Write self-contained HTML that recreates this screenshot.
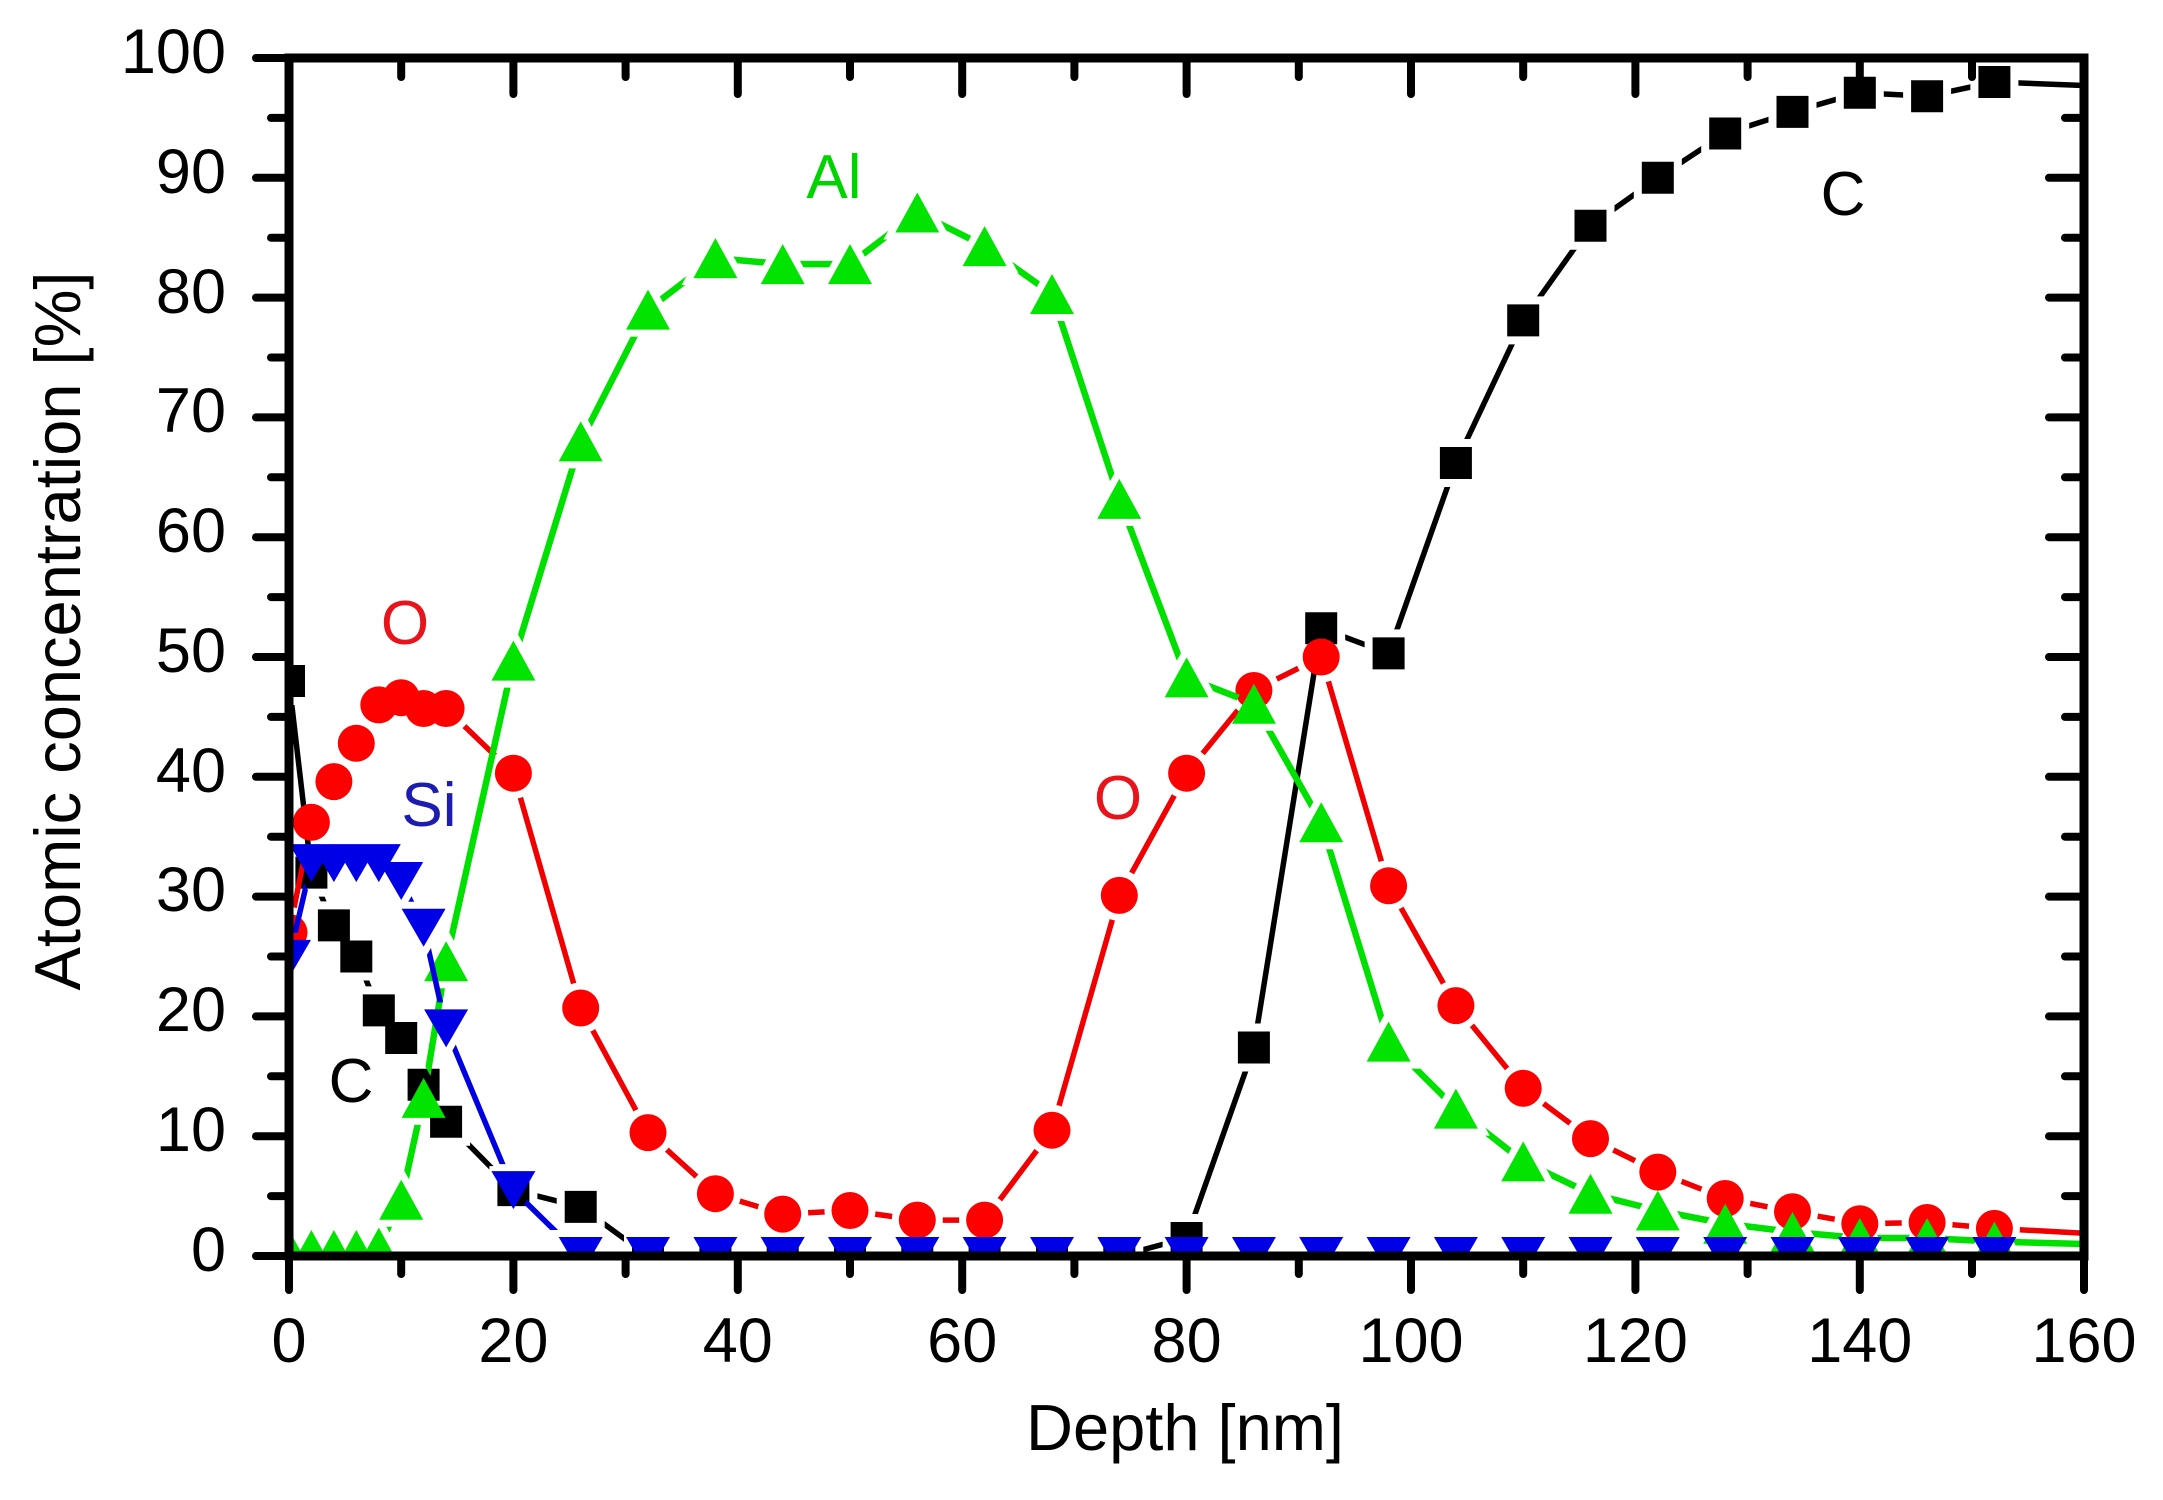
<!DOCTYPE html>
<html>
<head>
<meta charset="utf-8">
<style>
  html,body{margin:0;padding:0;background:#fff;}
  svg{display:block;}
  text{font-family:"Liberation Sans",Arial,sans-serif;}
</style>
</head>
<body>
<svg xmlns="http://www.w3.org/2000/svg" width="2163" height="1500" viewBox="0 0 2163 1500">
<rect x="0" y="0" width="2163" height="1500" fill="#fff"/>
<defs>
  <clipPath id="plotclip"><rect x="289" y="58" width="1795" height="1198"/></clipPath>

  <!-- C squares -->
  <path id="cP" d="M273 665h32v32h-32zM295.4 856.6h32v32h-32zM317.9 909.4h32v32h-32zM340.3 940.5h32v32h-32zM362.8 994.4h32v32h-32zM385.2 1022h32v32h-32zM407.6 1068.7h32v32h-32zM430.1 1105.8h32v32h-32zM497.4 1174.1h32v32h-32zM564.7 1190.9h32v32h-32zM632 1240h32v32h-32zM699.4 1240h32v32h-32zM766.7 1240h32v32h-32zM834 1240h32v32h-32zM901.3 1240h32v32h-32zM968.6 1240h32v32h-32zM1036 1240h32v32h-32zM1103.3 1240h32v32h-32zM1170.6 1222h32v32h-32zM1237.9 1031.5h32v32h-32zM1305.2 612.3h32v32h-32zM1372.6 637.4h32v32h-32zM1439.9 447h32v32h-32zM1507.2 304.4h32v32h-32zM1574.5 209.7h32v32h-32zM1641.8 161.8h32v32h-32zM1709.2 117.5h32v32h-32zM1776.5 95.9h32v32h-32zM1843.8 76.7h32v32h-32zM1911.1 80.3h32v32h-32zM1978.4 66h32v32h-32z"/>

  <!-- O circles -->
  <g id="oP">
    <circle cx="289" cy="932.5" r="18.5"/><circle cx="311.4" cy="822.3" r="18.5"/><circle cx="333.9" cy="781.6" r="18.5"/><circle cx="356.3" cy="743.3" r="18.5"/><circle cx="378.8" cy="704.9" r="18.5"/><circle cx="401.2" cy="697.7" r="18.5"/><circle cx="423.6" cy="708.5" r="18.5"/><circle cx="446.1" cy="708.5" r="18.5"/><circle cx="513.4" cy="773.2" r="18.5"/><circle cx="580.7" cy="1008" r="18.5"/><circle cx="648" cy="1132.6" r="18.5"/><circle cx="715.4" cy="1193.7" r="18.5"/><circle cx="782.7" cy="1214.1" r="18.5"/><circle cx="850" cy="1210.5" r="18.5"/><circle cx="917.3" cy="1220.1" r="18.5"/><circle cx="984.6" cy="1220.1" r="18.5"/><circle cx="1052" cy="1130.2" r="18.5"/><circle cx="1119.3" cy="895.4" r="18.5"/><circle cx="1186.6" cy="773.2" r="18.5"/><circle cx="1253.9" cy="690.5" r="18.5"/><circle cx="1321.2" cy="657" r="18.5"/><circle cx="1388.6" cy="885.8" r="18.5"/><circle cx="1455.9" cy="1005.6" r="18.5"/><circle cx="1523.2" cy="1088.3" r="18.5"/><circle cx="1590.5" cy="1138.6" r="18.5"/><circle cx="1657.8" cy="1172.1" r="18.5"/><circle cx="1725.2" cy="1198.5" r="18.5"/><circle cx="1792.5" cy="1211.7" r="18.5"/><circle cx="1859.8" cy="1223.7" r="18.5"/><circle cx="1927.1" cy="1222.5" r="18.5"/><circle cx="1994.4" cy="1228.4" r="18.5"/>
  </g>

  <!-- Al up triangles -->
  <path id="aP" d="M289 1230l22 40h-44zM311.4 1230l22 40h-44zM333.9 1230l22 40h-44zM356.3 1230l22 40h-44zM378.8 1227.6l22 40h-44zM401.2 1179.7l22 40h-44zM423.6 1077.9l22 40h-44zM446.1 941.3l22 40h-44zM513.4 640.6l22 40h-44zM580.7 421.4l22 40h-44zM648 289.6l22 40h-44zM715.4 238.1l22 40h-44zM782.7 244.1l22 40h-44zM850 244.1l22 40h-44zM917.3 192.5l22 40h-44zM984.6 226.1l22 40h-44zM1052 274l22 40h-44zM1119.3 478.9l22 40h-44zM1186.6 657.4l22 40h-44zM1253.9 683.7l22 40h-44zM1321.2 802.3l22 40h-44zM1388.6 1021.6l22 40h-44zM1455.9 1088.6l22 40h-44zM1523.2 1141.4l22 40h-44zM1590.5 1173.7l22 40h-44zM1657.8 1190.5l22 40h-44zM1725.2 1203.7l22 40h-44zM1792.5 1212l22 40h-44zM1859.8 1218l22 40h-44zM1927.1 1218l22 40h-44zM1994.4 1221.6l22 40h-44z"/>

  <!-- Si down triangles -->
  <path id="sP" d="M267 939.9h44l-22 38zM289.4 844.1h44l-22 38zM311.9 844.1h44l-22 38zM334.3 844.1h44l-22 38zM356.8 844.1h44l-22 38zM379.2 862h44l-22 38zM401.6 908.7h44l-22 38zM424.1 1009.4h44l-22 38zM491.4 1171.1h44l-22 38zM558.7 1237h44l-22 38zM626 1237h44l-22 38zM693.4 1237h44l-22 38zM760.7 1237h44l-22 38zM828 1237h44l-22 38zM895.3 1237h44l-22 38zM962.6 1237h44l-22 38zM1030 1237h44l-22 38zM1097.3 1237h44l-22 38zM1164.6 1237h44l-22 38zM1231.9 1237h44l-22 38zM1299.2 1237h44l-22 38zM1366.6 1237h44l-22 38zM1433.9 1237h44l-22 38zM1501.2 1237h44l-22 38zM1568.5 1237h44l-22 38zM1635.8 1237h44l-22 38zM1703.2 1237h44l-22 38zM1770.5 1237h44l-22 38zM1837.8 1237h44l-22 38zM1905.1 1237h44l-22 38zM1972.4 1237h44l-22 38z"/>

  <mask id="mC" maskUnits="userSpaceOnUse" x="0" y="0" width="2163" height="1500">
    <rect x="0" y="0" width="2163" height="1500" fill="#fff"/>
    <use href="#cP" fill="#000" stroke="#000" stroke-width="16"/>
  </mask>
  <mask id="mO" maskUnits="userSpaceOnUse" x="0" y="0" width="2163" height="1500">
    <rect x="0" y="0" width="2163" height="1500" fill="#fff"/>
    <use href="#oP" fill="#000" stroke="#000" stroke-width="14"/>
  </mask>
  <mask id="mA" maskUnits="userSpaceOnUse" x="0" y="0" width="2163" height="1500">
    <rect x="0" y="0" width="2163" height="1500" fill="#fff"/>
    <use href="#aP" fill="#000" stroke="#000" stroke-width="14"/>
  </mask>
  <mask id="mS" maskUnits="userSpaceOnUse" x="0" y="0" width="2163" height="1500">
    <rect x="0" y="0" width="2163" height="1500" fill="#fff"/>
    <use href="#sP" fill="#000" stroke="#000" stroke-width="14"/>
  </mask>
</defs>

<g clip-path="url(#plotclip)">
  <!-- C series -->
  <polyline mask="url(#mC)" fill="none" stroke="#000" stroke-width="5.5" stroke-linejoin="round"
    points="289,681 311.4,872.6 333.9,925.4 356.3,956.5 378.8,1010.4 401.2,1038 423.6,1084.7 446.1,1121.8 513.4,1190.1 580.7,1206.9 648,1256 715.4,1256 782.7,1256 850,1256 917.3,1256 984.6,1256 1052,1256 1119.3,1256 1186.6,1238 1253.9,1047.5 1321.2,628.3 1388.6,653.4 1455.9,463 1523.2,320.4 1590.5,225.7 1657.8,177.8 1725.2,133.5 1792.5,111.9 1859.8,92.7 1927.1,96.3 1994.4,82 2084,85.5"/>
  <use href="#cP" fill="#000"/>

  <!-- O series -->
  <polyline mask="url(#mO)" fill="none" stroke="#f00000" stroke-width="5.5" stroke-linejoin="round"
    points="289,932.5 311.4,822.3 333.9,781.6 356.3,743.3 378.8,704.9 401.2,697.7 423.6,708.5 446.1,708.5 513.4,773.2 580.7,1008 648,1132.6 715.4,1193.7 782.7,1214.1 850,1210.5 917.3,1220.1 984.6,1220.1 1052,1130.2 1119.3,895.4 1186.6,773.2 1253.9,690.5 1321.2,657 1388.6,885.8 1455.9,1005.6 1523.2,1088.3 1590.5,1138.6 1657.8,1172.1 1725.2,1198.5 1792.5,1211.7 1859.8,1223.7 1927.1,1222.5 1994.4,1228.4 2084,1233.2"/>
  <use href="#oP" fill="#ff0000"/>

  <!-- Al series -->
  <polyline mask="url(#mA)" fill="none" stroke="#00e000" stroke-width="6.5" stroke-linejoin="round"
    points="289,1250 311.4,1250 333.9,1250 356.3,1250 378.8,1247.6 401.2,1199.7 423.6,1097.9 446.1,961.3 513.4,660.6 580.7,441.4 648,309.6 715.4,258.1 782.7,264.1 850,264.1 917.3,212.5 984.6,246.1 1052,294 1119.3,498.9 1186.6,677.4 1253.9,703.7 1321.2,822.3 1388.6,1041.6 1455.9,1108.6 1523.2,1161.4 1590.5,1193.7 1657.8,1210.5 1725.2,1223.7 1792.5,1232 1859.8,1238 1927.1,1238 1994.4,1241.6 2084,1244"/>
  <use href="#aP" fill="#00e400"/>

  <!-- Si series -->
  <polyline mask="url(#mS)" fill="none" stroke="#0000e0" stroke-width="5.5" stroke-linejoin="round"
    points="289,958.9 311.4,863.1 333.9,863.1 356.3,863.1 378.8,863.1 401.2,881 423.6,927.7 446.1,1028.4 513.4,1190.1 580.7,1256 2084,1256"/>
  <use href="#sP" fill="#0000e6"/>
</g>

<!-- Axes frame -->
<rect x="289" y="58" width="1795" height="1198" fill="none" stroke="#000" stroke-width="9"/>

<!-- Ticks -->
<path fill="none" stroke="#000" stroke-width="8" stroke-linecap="round" d="
M256 1256H289 M256 1136.2H289 M256 1016.4H289 M256 896.6H289 M256 776.8H289 M256 657H289 M256 537.2H289 M256 417.4H289 M256 297.6H289 M256 177.8H289 M256 58H289
M271 1196.1H289 M271 1076.3H289 M271 956.5H289 M271 836.7H289 M271 716.9H289 M271 597.1H289 M271 477.3H289 M271 357.5H289 M271 237.7H289 M271 117.9H289
M2084 1136.2H2049 M2084 1016.4H2049 M2084 896.6H2049 M2084 776.8H2049 M2084 657H2049 M2084 537.2H2049 M2084 417.4H2049 M2084 297.6H2049 M2084 177.8H2049
M2084 1196.1H2065 M2084 1076.3H2065 M2084 956.5H2065 M2084 836.7H2065 M2084 716.9H2065 M2084 597.1H2065 M2084 477.3H2065 M2084 357.5H2065 M2084 237.7H2065 M2084 117.9H2065
M289 1256V1290 M513.4 1256V1290 M737.8 1256V1290 M962.2 1256V1290 M1186.6 1256V1290 M1411 1256V1290 M1635.4 1256V1290 M1859.8 1256V1290 M2084 1256V1290
M401.2 1256V1274 M625.6 1256V1274 M850 1256V1274 M1074.4 1256V1274 M1298.8 1256V1274 M1523.2 1256V1274 M1747.6 1256V1274 M1972 1256V1274
M513.4 58V94 M737.8 58V94 M962.2 58V94 M1186.6 58V94 M1411 58V94 M1635.4 58V94 M1859.8 58V94
M401.2 58V77 M625.6 58V77 M850 58V77 M1074.4 58V77 M1298.8 58V77 M1523.2 58V77 M1747.6 58V77 M1972 58V77
"/>

<!-- Y tick labels -->
<g font-size="63" fill="#000" text-anchor="end">
  <text x="226" y="1271">0</text>
  <text x="226" y="1151">10</text>
  <text x="226" y="1031">20</text>
  <text x="226" y="911">30</text>
  <text x="226" y="792">40</text>
  <text x="226" y="672">50</text>
  <text x="226" y="552">60</text>
  <text x="226" y="432">70</text>
  <text x="226" y="313">80</text>
  <text x="226" y="193">90</text>
  <text x="226" y="73">100</text>
</g>

<!-- X tick labels -->
<g font-size="63" fill="#000" text-anchor="middle">
  <text x="289" y="1362">0</text>
  <text x="513.4" y="1362">20</text>
  <text x="737.8" y="1362">40</text>
  <text x="962.2" y="1362">60</text>
  <text x="1186.6" y="1362">80</text>
  <text x="1411" y="1362">100</text>
  <text x="1635.4" y="1362">120</text>
  <text x="1859.8" y="1362">140</text>
  <text x="2084" y="1362">160</text>
</g>

<!-- Axis titles -->
<text x="1185" y="1450" font-size="65" text-anchor="middle" fill="#000">Depth [nm]</text>
<text transform="translate(80,631) rotate(-90)" x="0" y="0" font-size="65" text-anchor="middle" fill="#000">Atomic concentration [%]</text>

<!-- Series labels -->
<g font-size="62" text-anchor="middle">
  <text x="834" y="198" fill="#00d400">Al</text>
  <text x="405" y="644" fill="#e8141c">O</text>
  <text x="1118" y="819" fill="#e8141c">O</text>
  <text x="429" y="826" fill="#1c1cb0">Si</text>
  <text x="351" y="1102" fill="#000">C</text>
  <text x="1843" y="215" fill="#000">C</text>
</g>
</svg>
</body>
</html>
